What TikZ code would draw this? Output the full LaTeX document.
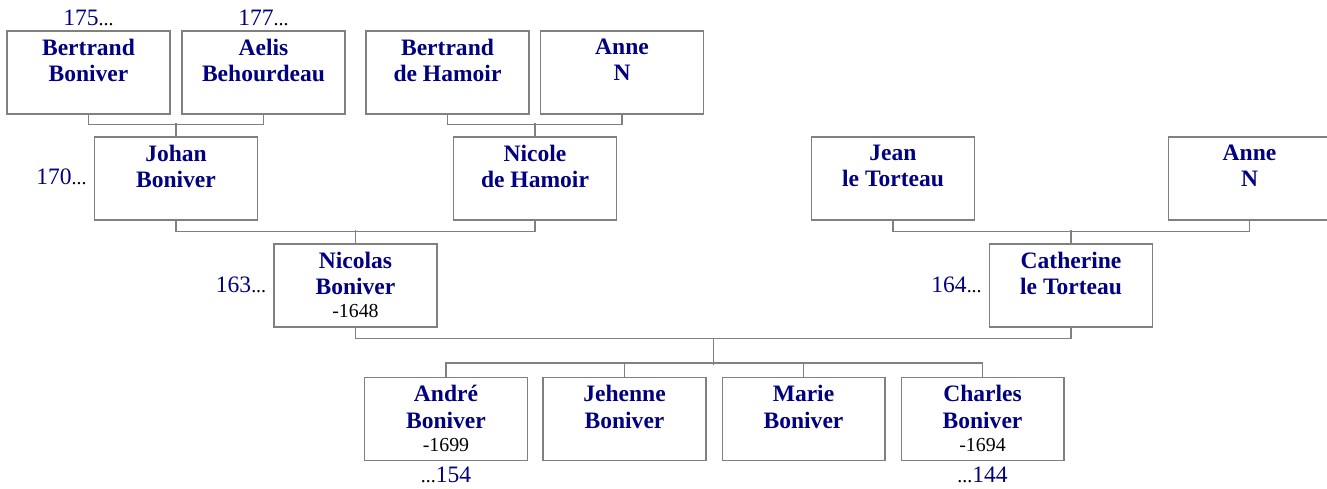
\documentclass[tikz,border=0pt]{standalone}
\usepackage{fontspec}
\setmainfont{Liberation Serif}
\usetikzlibrary{calc}
\definecolor{namenavy}{RGB}{0,0,128}
\definecolor{boxgray}{RGB}{128,128,128}
\newcommand{\deathyr}[1]{{\fontsize{11.3}{13}\selectfont\mdseries\color{black}#1}}
\newcommand{\ancnum}[1]{#1{\fontsize{11.3}{13}\selectfont\color{black}...}}
\newcommand{\descnum}[1]{{\fontsize{11.3}{13}\selectfont\color{black}...}#1}

\begin{document}
\begin{tikzpicture}[x=0.02cm, y=-0.02cm,
    person/.style={draw=boxgray, line width=0.6pt, minimum width=3.26cm, minimum height=1.66cm, inner sep=0pt},
    fullname/.style={anchor=north, align=center, inner sep=0pt, text=namenavy, font=\fontsize{13.4}{15.1}\selectfont\bfseries},
    link/.style={draw=boxgray, line width=0.6pt},
    gen/.style={text=namenavy, inner sep=0pt, font=\fontsize{13.4}{15}\selectfont}]
    \useasboundingbox (0,0) rectangle (1327,489);

    % grandparents
    \node[person] (bbon) at (88.5,72.5) {};
    \node[person] (abeh) at (263.5,72.5) {};
    \node[person] (bham) at (447.5,72.5) {};
    \node[person] (anne1) at (622,72.5) {};
    \node[fullname] (bbon-t) at ([yshift=-0.16cm]bbon.north) {Bertrand\\Boniver};
    \node[fullname] (abeh-t) at ([yshift=-0.16cm]abeh.north) {Aelis\\Behourdeau};
    \node[fullname] (bham-t) at ([yshift=-0.16cm]bham.north) {Bertrand\\de Hamoir};
    \node[fullname] (anne1-t) at ([yshift=-0.16cm]anne1.north) {Anne\\N};

    % parents
    \node[person] (jbon) at (176,178.5) {};
    \node[person] (nham) at (535,178.5) {};
    \node[person] (jtor) at (893,178.5) {};
    \node[person] (anne2) at (1249.5,178.5) {};
    \node[fullname] (jbon-t) at ([yshift=-0.16cm]jbon.north) {Johan\\Boniver};
    \node[fullname] (nham-t) at ([yshift=-0.16cm]nham.north) {Nicole\\de Hamoir};
    \node[fullname] (jtor-t) at ([yshift=-0.16cm]jtor.north) {Jean\\le Torteau};
    \node[fullname] (anne2-t) at ([yshift=-0.16cm]anne2.north) {Anne\\N};

    % couple
    \node[person] (nbon) at (355.5,285.5) {};
    \node[person] (ctor) at (1071,285.5) {};
    \node[fullname] (nbon-t) at ([yshift=-0.16cm]nbon.north) {Nicolas\\Boniver\\[-2pt]\deathyr{-1648}};
    \node[fullname] (ctor-t) at ([yshift=-0.16cm]ctor.north) {Catherine\\le Torteau};

    % children
    \node[person] (andre) at (446,419) {};
    \node[person] (jehenne) at (624.5,419) {};
    \node[person] (marie) at (803.5,419) {};
    \node[person] (charles) at (982.5,419) {};
    \node[fullname] (andre-t) at ([yshift=-0.16cm]andre.north) {André\\Boniver\\[-2pt]\deathyr{-1699}};
    \node[fullname] (jehenne-t) at ([yshift=-0.16cm]jehenne.north) {Jehenne\\Boniver};
    \node[fullname] (marie-t) at ([yshift=-0.16cm]marie.north) {Marie\\Boniver};
    \node[fullname] (charles-t) at ([yshift=-0.16cm]charles.north) {Charles\\Boniver\\[-2pt]\deathyr{-1694}};

    % numbers
    \node[gen, anchor=base] (n175) at ([yshift=0.1cm]bbon.north) {\ancnum{175}};
    \node[gen, anchor=base] (n177) at ([yshift=0.1cm]abeh.north) {\ancnum{177}};
    \node[gen, anchor=base east] (n170) at ([xshift=-0.14cm,yshift=-0.13cm]jbon.west) {\ancnum{170}};
    \node[gen, anchor=base east] (n163) at ([xshift=-0.14cm,yshift=-0.15cm]nbon.west) {\ancnum{163}};
    \node[gen, anchor=base east] (n164) at ([xshift=-0.14cm,yshift=-0.15cm]ctor.west) {\ancnum{164}};
    \node[gen, anchor=base] (n154) at ([yshift=-0.43cm]andre.south) {\descnum{154}};
    \node[gen, anchor=base] (n144) at ([yshift=-0.43cm]charles.south) {\descnum{144}};

    % links
    \draw[link] (bbon.south) -- ++(0,10) -| (abeh.south);
    \draw[link] (jbon.north) -- ++(0,-13);
    \draw[link] (bham.south) -- ++(0,10) -| (anne1.south);
    \draw[link] (nham.north) -- ++(0,-13);
    \draw[link] (jbon.south) -- ++(0,11) -| (nham.south);
    \draw[link] (nbon.north) -- ++(0,-13);
    \draw[link] (jtor.south) -- ++(0,11) -| (anne2.south);
    \draw[link] (ctor.north) -- ++(0,-13);
    \draw[link] (nbon.south) -- ++(0,11) -| (ctor.south);
    \coordinate (fam) at ($(nbon.south)!0.5!(ctor.south)+(0,11)$);
    \draw[link] (fam) -- ++(0,26);
    \draw[link] (andre.north) -- ++(0,-14) -| (charles.north);
    \foreach \c in {jehenne, marie}
        \draw[link] (\c.north) -- ++(0,-14);
\end{tikzpicture}
\end{document}
